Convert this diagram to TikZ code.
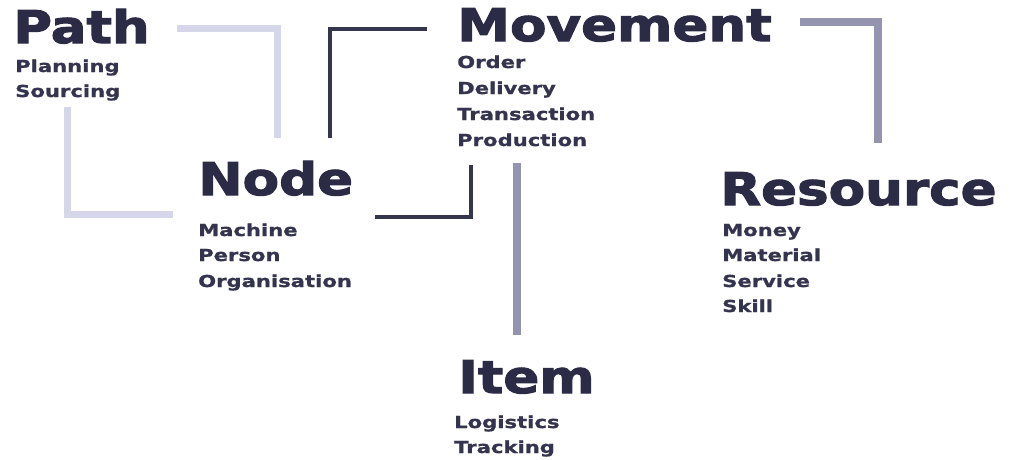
\documentclass[tikz,border=0pt]{standalone}
\usepackage{fontspec}
\newfontfamily\titlefont[FakeStretch=1.18,FakeBold=2.5]{DejaVu Sans Bold}
\newfontfamily\subfont[FakeStretch=1.28,FakeBold=1]{DejaVu Sans Bold}
\definecolor{ink}{HTML}{2B2B45}
\definecolor{subink}{HTML}{34344E}
\definecolor{lightc}{HTML}{D6D6EA}
\definecolor{darkc}{HTML}{35354D}
\definecolor{grayc}{HTML}{9494B0}
\tikzset{
  title/.style={anchor=base west, inner sep=0pt, text=ink, font=\titlefont\fontsize{45}{45}\selectfont},
  sub/.style={anchor=base west, inner sep=0pt, text=subink, font=\subfont\fontsize{16.5}{16.5}\selectfont},
  lightline/.style={draw=lightc, line width=7pt},
  darkline/.style={draw=darkc, line width=4pt},
  grayline/.style={draw=grayc, line width=8pt},
}
\begin{document}
\begin{tikzpicture}[x=1pt,y=-1pt]
\useasboundingbox[fill=white] (0,0) rectangle (1010,459);
% titles
\node[title] (path) at (13,43) {Path};
\node[title] (node) at (198,195) {Node};
\node[title] (movement) at (457,41) {Movement};
\node[title] (resource) at (720,205) {Resource};
\node[title] (item) at (458,393) {Item};
% sub items
\node[sub] (planning) at (15,72) {Planning};
\node[sub] (sourcing) at (15,97) {Sourcing};
\node[sub] (machine) at (198,236) {Machine};
\node[sub] (person) at (198,261) {Person};
\node[sub] (organisation) at (198,287) {Organisation};
\node[sub] (order) at (457,68) {Order};
\node[sub] (delivery) at (457,94) {Delivery};
\node[sub] (transaction) at (457,120) {Transaction};
\node[sub] (production) at (457,146) {Production};
\node[sub] (money) at (722,236) {Money};
\node[sub] (material) at (722,261) {Material};
\node[sub] (service) at (722,287) {Service};
\node[sub] (skill) at (722,312) {Skill};
\node[sub] (logistics) at (454,428) {Logistics};
\node[sub] (tracking) at (454,453) {Tracking};
% connector end points
\coordinate (pA) at (177,28);
\coordinate (pB) at (277,138);
\coordinate (pC) at (67,107);
\coordinate (pD) at (173,214);
\coordinate (mA) at (427,29);
\coordinate (mB) at (330,138);
\coordinate (nA) at (375,217);
\coordinate (nB) at (471,165);
\coordinate (rA) at (800,22);
\coordinate (rB) at (878,143);
\coordinate (iA) at (517,163);
\coordinate (iB) at (517,335);
% connectors
\draw[lightline] (pA) -| (pB);
\draw[lightline] (pC) |- (pD);
\draw[darkline] (mA) -| (mB);
\draw[darkline] (nA) -| (nB);
\draw[grayline] (rA) -| (rB);
\draw[grayline] (iA) -- (iB);
\end{tikzpicture}
\end{document}
